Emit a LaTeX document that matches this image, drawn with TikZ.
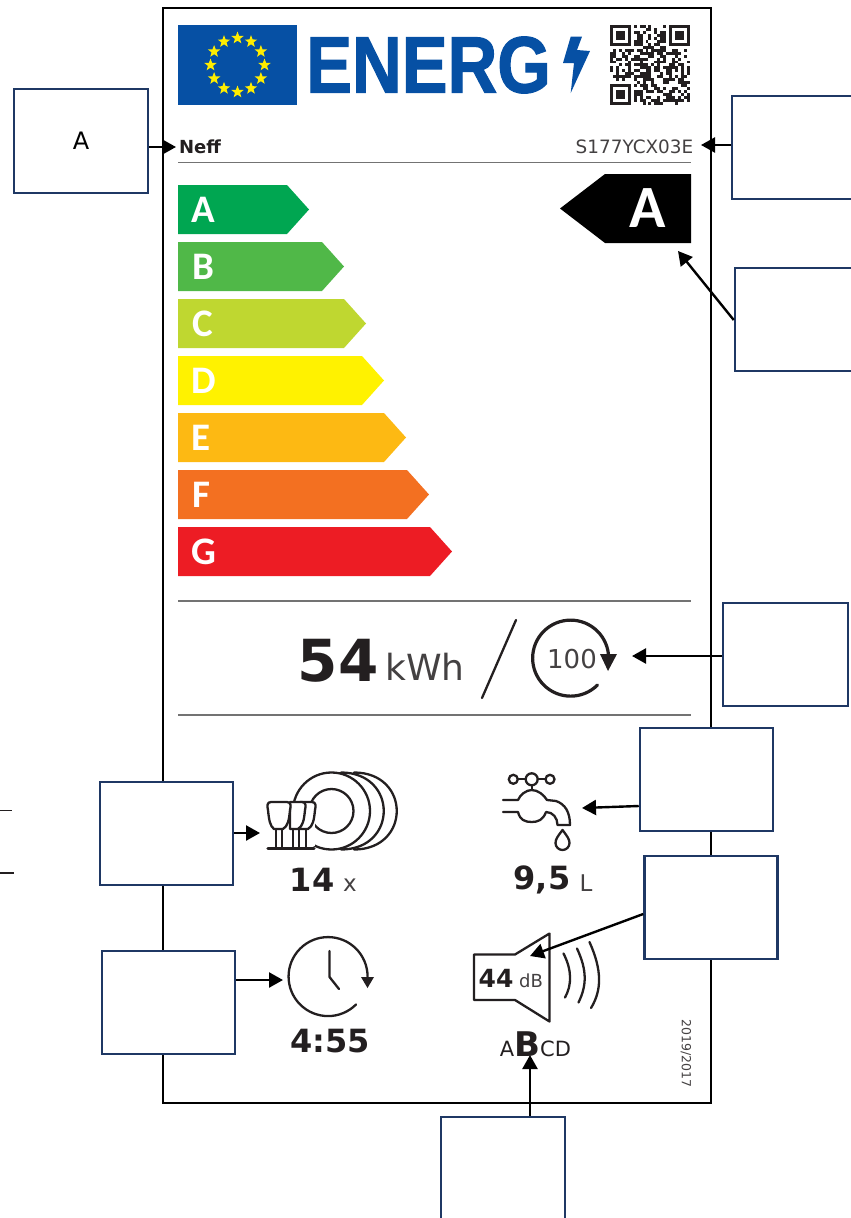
\documentclass[tikz,border=0pt]{standalone}
\usepackage{xcolor}
\usepackage{fontspec}
\usepackage{tikz}
\usetikzlibrary{arrows.meta,shapes.geometric}
\setmainfont{DejaVu Sans}
\newfontfamily\logofont[BoldFeatures={FakeBold=1.5}]{Liberation Sans}
\newfontfamily\classfont{Carlito}
\definecolor{boxline}{HTML}{1F3864}
\definecolor{ink}{HTML}{231F20}
\definecolor{eublue}{HTML}{0650A4}
\definecolor{staryellow}{HTML}{FFED00}
\definecolor{classA}{HTML}{00A651}
\definecolor{classB}{HTML}{50B848}
\definecolor{classC}{HTML}{BFD730}
\definecolor{classD}{HTML}{FFF200}
\definecolor{classE}{HTML}{FDB913}
\definecolor{classF}{HTML}{F37021}
\definecolor{classG}{HTML}{ED1C24}
\tikzset{
	callout/.style={draw=boxline,line width=2.5pt,fill=white,inner sep=0pt,font=\fontsize{24}{24}\selectfont},
	pointer/.style={black,line width=2.4pt,-{Triangle[length=14pt,width=15pt]}},
	rule/.style={draw=black!55,line width=1.2pt},
	icon/.style={ink,line width=2.3pt,line cap=round,line join=round},
	barletter/.style={white,font=\fontsize{39}{39}\selectfont\classfont\bfseries},
	bignum/.style={ink,font=\fontsize{32}{32}\selectfont\bfseries},
	unit/.style={ink!85,font=\fontsize{23}{23}\selectfont}
}
\begin{document}
\begin{tikzpicture}[x=1pt,y=-1pt]
	\useasboundingbox (0,0) rectangle (851,1218);
	\draw[black,line width=2pt] (162.5,8) rectangle (711,1103);

	% logo
	\fill[eublue] (178,25) rectangle (297,105);
	\foreach \a in {0,30,...,330}
		\node (star\a) [star,star points=5,star point ratio=2.4,fill=staryellow,inner sep=0pt,minimum size=13pt] at ({237.5+27*cos(\a)},{65+27*sin(\a)}) {};
	\node (energ) at (428.5,65) [eublue,xscale=0.86,font=\fontsize{80}{80}\selectfont\logofont\bfseries] {ENERG};
	\fill[eublue] (570.7,36.7) -- (582,36.7) -- (577,50) -- (590,51) -- (570.7,93) -- (574,63) -- (563,63) -- cycle;

	% qr code
	\begin{scope}[shift={(610,25)},x=2.96pt,y=-2.96pt]
		\foreach \cx/\cy in {0/0,20/0,0/20} {
			\draw[ink,line width=2.96pt] (\cx+0.5,\cy+0.5) rectangle (\cx+6.5,\cy+6.5);
			\fill[ink] (\cx+2,\cy+2) rectangle (\cx+5,\cy+5);
		}
		\pgfmathsetseed{54}
		\foreach \i in {0,...,26}
			\foreach \j in {0,...,26} {
				\pgfmathsetmacro{\coin}{rnd}
				\pgfmathtruncatemacro{\free}{(\i<8 && \j<8) || (\i>18 && \j<8) || (\i<8 && \j>18) ? 0 : 1}
				\ifnum\free=1
					\ifdim\coin pt<0.5pt
						\fill[ink] (\i,\j) rectangle (\i+1,\j+1);
					\fi
				\fi
			}
	\end{scope}

	\node (brand) at (200,147) [ink,font=\fontsize{18}{18}\selectfont\bfseries] {Neff};
	\node (model) at (634.5,147) [ink!85,font=\fontsize{18.4}{18.4}\selectfont] {S177YCX03E};
	\draw[rule] (178,162.5) -- (691,162.5);

	% scale
	\fill[classA] (178,185) -- (287,185) -- (309,209.5) -- (287,234) -- (178,234) -- cycle;
	\fill[classB] (178,242) -- (322,242) -- (344,266.5) -- (322,291) -- (178,291) -- cycle;
	\fill[classC] (178,299) -- (344,299) -- (366,323.5) -- (344,348) -- (178,348) -- cycle;
	\fill[classD] (178,356) -- (362,356) -- (384,380.5) -- (362,405) -- (178,405) -- cycle;
	\fill[classE] (178,413) -- (384,413) -- (406,437.5) -- (384,462) -- (178,462) -- cycle;
	\fill[classF] (178,470) -- (407,470) -- (429,494.5) -- (407,519) -- (178,519) -- cycle;
	\fill[classG] (178,527) -- (430,527) -- (452,551.5) -- (430,576) -- (178,576) -- cycle;
	\node (la) at (203,210) [barletter] {A};
	\node (lb) at (203,267) [barletter] {B};
	\node (lc) at (203,324) [barletter] {C};
	\node (ld) at (204,381) [barletter] {D};
	\node (le) at (201,438) [barletter] {E};
	\node (lf) at (201,495) [barletter] {F};
	\node (lg) at (204,552) [barletter] {G};

	\fill[black] (560,208.5) -- (605,174) -- (691,174) -- (691,243) -- (605,243) -- cycle;
	\node (rating) at (648,208) [white,font=\fontsize{60}{60}\selectfont\classfont\bfseries] {A};

	% energy per 100 cycles
	\draw[rule] (178,601) -- (691,601);
	\draw[rule] (178,715) -- (691,715);
	\node (kwhval) at (338,661) [ink,font=\fontsize{58}{58}\selectfont\bfseries] {54};
	\node (kwh) at (425,667) [ink!85,font=\fontsize{36}{36}\selectfont] {kWh};
	\draw[icon] (482,698) -- (516,620);
	\draw[icon,line width=3.2pt] (597.5,685) arc[start angle=45,end angle=360,radius=38];
	\fill[ink] (600,654) -- (617,654) -- (608,671) -- cycle;
	\node (cycles) at (572,659) [ink!85,font=\fontsize{26}{26}\selectfont] {100};

	% plates and glasses
	\draw[icon] (331.5,811) circle[radius=38.5];
	\draw[icon] (331.5,811) circle[radius=22];
	\draw[icon] (341,772.5) .. controls (398,772.5) and (398,849.5) .. (341,849.5);
	\draw[icon] (354,772.5) .. controls (411,772.5) and (411,849.5) .. (354,849.5);
	\fill[white] (268,802) rectangle (315,846);
	\draw[icon,fill=white] (300,802) -- (312,802) .. controls (316,802) and (316,806) .. (315,810) .. controls (314,820) and (313,826) .. (308,829) -- (300,829) -- cycle;
	\draw[icon,fill=white] (290,802) -- (302,802) .. controls (306,802) and (306,806) .. (305,810) .. controls (304,820) and (303,826) .. (298,829) -- (290,829) -- cycle;
	\draw[icon,fill=white] (271,802) -- (287,802) .. controls (291,802) and (291,806) .. (290,810) .. controls (289,820) and (288,826) .. (283,829) -- (274,829) .. controls (270,826) and (269,820) .. (268,810) .. controls (267,806) and (267,802) .. (271,802) -- cycle;
	\draw[icon] (276,829) -- (276,847);
	\draw[icon] (282,829) -- (282,847);
	\draw[icon] (293,829) -- (293,847);
	\draw[icon] (299,829) -- (299,847);
	\draw[icon] (306,829) -- (306,847);
	\draw[icon,line width=3.2pt] (268,848.5) -- (314,848.5);
	\node (placeval) at (312,880) [bignum] {14};
	\node (placeunit) at (350,885) [unit] {x};

	% tap
	\draw[icon] (513.3,779.3) circle[radius=4.5];
	\draw[icon] (550,779.3) circle[radius=4.5];
	\draw[icon,fill=white] (531.7,779.3) circle[radius=6];
	\draw[icon] (517.8,779.3) -- (525.7,779.3);
	\draw[icon] (537.7,779.3) -- (545.5,779.3);
	\draw[icon] (531.7,785.3) -- (531.7,790);
	\draw[icon] (503,800) -- (518,800) .. controls (520,795) and (526,790) .. (531.7,790) .. controls (538,790) and (544,795) .. (547,800) -- (556,801) .. controls (565,804) and (570,812) .. (570,825) -- (557.5,825) .. controls (557.5,818) and (553,812) .. (546,812) .. controls (543,820) and (538,822) .. (531.7,822) .. controls (525,822) and (520,820) .. (518,812) -- (503,812);
	\draw[icon] (562.5,830) .. controls (558,836) and (555.5,839) .. (555.5,843) arc[start angle=180,end angle=0,radius=7] .. controls (569.5,839) and (567,836) .. (562.5,830) -- cycle;
	\node (waterval) at (542,880) [bignum] {9,5};
	\node (waterunit) at (586,883) [unit] {L};

	% clock
	\draw[icon] (356,1004.5) arc[start angle=45,end angle=360,radius=39.5];
	\fill[ink] (361,977) -- (374,977) -- (367.5,988) -- cycle;
	\draw[icon] (329.5,951) -- (329.5,977) -- (339,989);
	\node (timeval) at (330,1041) [bignum] {4:55};

	% noise
	\draw[icon] (474,954.5) -- (515,954.5) -- (549.5,933.5) -- (549.5,1021.5) -- (515,1000) -- (474,1000) -- cycle;
	\node (noiseval) at (496,978) [ink,font=\fontsize{25}{25}\selectfont\bfseries] {44};
	\node (noiseunit) at (531,981) [ink!85,font=\fontsize{18}{18}\selectfont] {dB};
	\draw[icon] (563.5,953.5) .. controls (572,970) and (572,985) .. (565,997.5);
	\draw[icon] (577,948.5) .. controls (587,970) and (587,985) .. (578.5,1002.5);
	\draw[icon] (589.5,942) .. controls (602,970) and (602,990) .. (591,1008);
	\node (noiseclass) at (535.5,1044) [ink,inner sep=0pt] {\fontsize{21}{21}\selectfont A\fontsize{34}{34}\selectfont\bfseries B\fontsize{21}{21}\selectfont\mdseries CD};
	\node (regyear) at (686,1053.5) [ink!85,rotate=-90,font=\fontsize{12.5}{12.5}\selectfont] {2019/2017};

	% empty boxes around the label
	\draw[ink,line width=1.5pt] (0,810.7) -- (12,810.7);
	\draw[ink,line width=1.5pt] (0,873) -- (14,873);
	\node (boxbrand) at (81,141) [callout,minimum width=134pt,minimum height=104pt] {A};
	\node (boxmodel) at (797,147.5) [callout,minimum width=130pt,minimum height=103pt] {};
	\node (boxclass) at (798,319.5) [callout,minimum width=126pt,minimum height=103pt] {};
	\node (boxenergy) at (785.5,654.5) [callout,minimum width=125pt,minimum height=103pt] {};
	\node (boxwater) at (706.5,779.5) [callout,minimum width=133pt,minimum height=103pt] {};
	\node (boxnoise) at (711,907.5) [callout,minimum width=133pt,minimum height=103pt] {};
	\node (boxplaces) at (166.5,833.5) [callout,minimum width=133pt,minimum height=103pt] {};
	\node (boxtime) at (168.5,1002.5) [callout,minimum width=133pt,minimum height=103pt] {};
	\node (boxnoiseclass) at (503,1172) [callout,minimum width=124pt,minimum height=110pt] {};

	\coordinate (tipbrand) at (176,147);
	\coordinate (tipmodel) at (701,145);
	\coordinate (tipclass) at (678,251);
	\coordinate (tipenergy) at (632,656);
	\coordinate (tipwater) at (582,808);
	\coordinate (tipnoise) at (530,956);
	\coordinate (tipplaces) at (260,833);
	\coordinate (tiptime) at (283,980);
	\coordinate (tipnoiseclass) at (530,1055);

	\draw[pointer] (boxbrand.east |- tipbrand) -- (tipbrand);
	\draw[pointer] (boxmodel.west |- tipmodel) -- (tipmodel);
	\draw[pointer] (boxclass.west |- 0,320) -- (tipclass);
	\draw[pointer] (boxenergy.west |- tipenergy) -- (tipenergy);
	\draw[pointer] (boxwater.west |- 0,806) -- (tipwater);
	\draw[pointer] (boxnoise.west |- 0,914) -- (tipnoise);
	\draw[pointer] (boxplaces.east |- tipplaces) -- (tipplaces);
	\draw[pointer] (boxtime.east |- tiptime) -- (tiptime);
	\draw[pointer] (boxnoiseclass.north -| tipnoiseclass) -- (tipnoiseclass);
\end{tikzpicture}
\end{document}
